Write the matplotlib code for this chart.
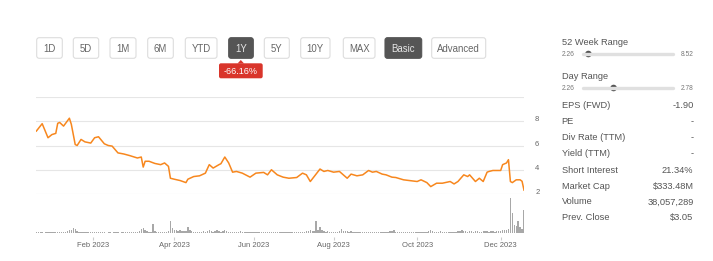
import pandas as pd
import matplotlib.pyplot as plt
from matplotlib.patches import FancyBboxPatch, Polygon, Circle

plt.rcParams['font.family'] = ['Liberation Sans', 'DejaVu Sans']

# trading calendar for the 1Y window
holidays = ['2022-12-26', '2023-01-02', '2023-01-16', '2023-02-20', '2023-04-07',
            '2023-05-29', '2023-06-19', '2023-07-04', '2023-09-04', '2023-11-23']
tdays = pd.bdate_range('2022-12-19', '2023-12-19', freq='C', holidays=holidays)

# closing prices
price_dates = ['2022-12-19', '2022-12-22', '2022-12-28', '2022-12-30', '2023-01-04', '2023-01-05',
               '2023-01-06', '2023-01-10', '2023-01-13', '2023-01-17', '2023-01-19', '2023-01-20',
               '2023-01-24', '2023-01-26', '2023-01-31', '2023-02-02', '2023-02-06', '2023-02-09',
               '2023-02-13', '2023-02-15', '2023-02-21', '2023-02-24', '2023-03-01', '2023-03-07',
               '2023-03-09', '2023-03-10', '2023-03-13', '2023-03-15', '2023-03-20', '2023-03-23',
               '2023-03-27', '2023-03-29', '2023-03-30', '2023-04-03', '2023-04-06', '2023-04-12',
               '2023-04-13', '2023-04-18', '2023-04-21', '2023-04-26', '2023-04-28', '2023-05-02',
               '2023-05-05', '2023-05-08', '2023-05-10', '2023-05-12', '2023-05-16', '2023-05-18',
               '2023-05-23', '2023-05-30', '2023-06-02', '2023-06-08', '2023-06-12', '2023-06-14',
               '2023-06-20', '2023-06-23', '2023-06-28', '2023-07-05', '2023-07-10', '2023-07-12',
               '2023-07-14', '2023-07-18', '2023-07-21', '2023-07-25', '2023-07-27', '2023-08-01',
               '2023-08-04', '2023-08-08', '2023-08-10', '2023-08-14', '2023-08-17', '2023-08-22',
               '2023-08-25', '2023-08-29', '2023-08-31', '2023-09-06', '2023-09-08', '2023-09-13',
               '2023-09-15', '2023-09-21', '2023-09-26', '2023-10-02', '2023-10-04', '2023-10-09',
               '2023-10-11', '2023-10-16', '2023-10-19', '2023-10-25', '2023-10-27', '2023-10-31',
               '2023-11-03', '2023-11-07', '2023-11-08', '2023-11-13', '2023-11-15', '2023-11-17',
               '2023-11-21', '2023-11-22', '2023-11-27', '2023-12-01', '2023-12-04', '2023-12-06',
               '2023-12-07', '2023-12-08', '2023-12-11', '2023-12-13', '2023-12-15', '2023-12-18',
               '2023-12-19']
prices = [7.19, 7.80, 6.64, 6.90, 7.00, 7.83,
          7.90, 7.60, 8.25, 7.75, 6.08, 6.00,
          6.50, 6.30, 6.20, 6.64, 6.72, 6.14,
          6.00, 5.95, 5.39, 5.30, 5.17, 4.97,
          5.05, 4.22, 4.70, 4.70, 4.52, 4.42,
          4.56, 4.28, 3.30, 3.22, 3.11, 2.94,
          3.22, 3.44, 3.50, 3.72, 4.42, 4.14,
          4.42, 4.50, 5.05, 4.56, 3.80, 3.86,
          3.72, 3.39, 3.72, 3.78, 3.58, 4.00,
          3.58, 3.39, 3.30, 3.36, 3.72, 3.58,
          3.03, 3.44, 4.06, 3.86, 3.94, 3.80,
          3.86, 3.58, 3.30, 3.64, 3.50, 3.58,
          3.94, 3.80, 3.86, 3.64, 3.58, 3.39,
          3.36, 3.17, 3.11, 3.03, 3.17, 2.94,
          2.61, 2.89, 2.89, 3.03, 2.83, 3.03,
          3.58, 3.44, 3.58, 3.03, 3.30, 3.03,
          3.80, 3.86, 3.94, 3.94, 4.42, 4.56,
          4.83, 3.03, 2.94, 3.17, 3.17, 3.05,
          2.32]

# daily volume, millions, one value per trading day, month by month
vol_dec22 = [2.0, 1.8, 2.2, 1.9, 1.6, 2.0, 2.3, 1.8, 2.1]
vol_jan = [2.1, 2.4, 3.0, 2.6, 2.2, 2.8, 3.2, 4.0, 5.5, 6.5, 8.5, 7.0, 4.5, 3.2, 2.8, 2.5, 2.2, 3.0, 2.4, 2.0]
vol_feb = [2.0, 2.6, 1.8, 2.2, 1.7, 2.4, 2.0, 1.6, 1.8, 2.2, 1.5, 1.9, 2.1, 1.7, 1.6, 2.0, 1.8, 2.2, 1.9]
vol_mar = [1.8, 2.0, 2.5, 2.2, 3.0, 4.5, 7.5, 8.5, 6.0, 3.5, 2.8, 2.5, 15.0, 4.0, 2.6, 2.2, 2.5, 2.4, 2.2, 2.8,
           3.5, 20.0, 9.0]
vol_apr = [6.0, 5.0, 4.5, 5.5, 4.0, 3.5, 4.0, 11.0, 5.0, 3.5, 3.0, 2.5, 2.8, 3.0, 2.4, 3.5, 2.8, 4.5, 5.0]
vol_may = [3.5, 3.0, 4.0, 5.5, 3.5, 3.0, 4.5, 5.0, 3.5, 2.8, 3.0, 2.5, 3.2, 2.8, 2.5, 3.5, 2.6, 2.2, 2.4, 2.8,
           2.5, 2.2]
vol_jun = [2.5, 3.0, 2.2, 2.0, 2.4, 2.6, 2.2, 2.0, 2.8, 3.0, 2.4, 2.2, 2.6, 3.0, 2.4, 2.0, 2.2, 2.6, 3.0, 2.8, 2.4]
vol_jul = [2.0, 2.2, 2.5, 2.8, 3.0, 2.6, 3.5, 4.0, 5.0, 3.5, 4.5, 20.0, 6.0, 10.0, 5.0, 4.0, 3.0, 3.5, 2.6, 2.8]
vol_aug = [2.5, 2.8, 3.0, 4.0, 8.0, 4.5, 3.5, 4.0, 3.0, 3.5, 2.8, 2.5, 2.2, 2.6, 2.4, 2.0, 2.2, 2.5, 2.0, 1.8,
           2.2, 2.4, 2.0]
vol_sep = [2.0, 2.2, 2.5, 1.8, 2.4, 3.0, 3.5, 4.0, 6.5, 3.0, 2.5, 2.2, 2.0, 1.8, 2.2, 2.0, 1.8, 2.4, 2.0, 1.9]
vol_oct = [2.0, 1.8, 2.2, 1.9, 2.5, 3.0, 3.5, 5.0, 4.0, 3.0, 2.6, 2.5, 3.5, 3.0, 2.4, 2.2, 2.6, 2.8, 3.0, 2.5,
           3.2, 4.0]
vol_nov = [4.5, 5.0, 4.0, 3.5, 3.0, 3.5, 4.0, 3.0, 3.5, 4.5, 3.0, 2.8, 3.5, 4.5, 3.5, 3.0, 4.0, 3.5, 3.0, 4.0, 4.5]
vol_dec = [4.0, 5.5, 5.0, 6.0, 7.0, 58.0, 33.0, 14.0, 12.0, 20.0, 10.0, 8.0, 38.1]
volumes = (vol_dec22 + vol_jan + vol_feb + vol_mar + vol_apr + vol_may + vol_jun + vol_jul
           + vol_aug + vol_sep + vol_oct + vol_nov + vol_dec)

tick_months = ['2023-02', '2023-04', '2023-06', '2023-08', '2023-10', '2023-12']
tick_labels = ['Feb 2023', 'Apr 2023', 'Jun 2023', 'Aug 2023', 'Oct 2023', 'Dec 2023']

buttons = ['1D', '5D', '1M', '6M', 'YTD', '1Y', '5Y', '10Y', 'MAX', 'Basic', 'Advanced']
button_x = [(36.7, 62.3), (73.3, 98.7), (110, 136), (147.7, 173.3), (185.3, 217), (228.7, 253.3),
            (264.3, 289.3), (300.7, 330), (343.3, 375), (385, 421.7), (431.7, 485.7)]
active = ['1Y', 'Basic']
change_text = '-66.16%'

range_rows = [('52 Week Range', '2.26', '8.52', 0.06), ('Day Range', '2.26', '2.78', 0.34)]
stat_labels = ['EPS (FWD)', 'PE', 'Div Rate (TTM)', 'Yield (TTM)', 'Short Interest', 'Market Cap',
               'Volume', 'Prev. Close']
stat_values = ['-1.90', '-', '-', '-', '21.34%', '$333.48M', '38,057,289', '$3.05']

W, H = 713, 261
fig = plt.figure(figsize=(W / 100, H / 100), dpi=100)

def rect(x0, y0, x1, y1):
    return [x0 / W, 1 - y1 / H, (x1 - x0) / W, (y1 - y0) / H]

# background layer in pixel coordinates
bg = fig.add_axes([0, 0, 1, 1])
bg.set_xlim(0, W)
bg.set_ylim(H, 0)
bg.axis('off')

for name, (x0, x1) in zip(buttons, button_x):
    on = name in active
    box = FancyBboxPatch((x0, 37.7), x1 - x0, 20.6, boxstyle='round,pad=0,rounding_size=2.5',
                         fc='#555555' if on else 'white', ec='#555555' if on else '#dddddd', lw=0.8)
    bg.add_patch(box)
    bg.text((x0 + x1) / 2, 51.7, name, ha='center', va='baseline', fontsize=6.9,
            color='#e6e6e6' if on else '#666666')

# red change badge under 1Y
bg.add_patch(FancyBboxPatch((219, 63.3), 43.7, 15, boxstyle='round,pad=0,rounding_size=2',
                            fc='#d9352b', ec='none'))
bg.add_patch(Polygon([(237.5, 63.5), (240.8, 60), (244.1, 63.5)], closed=True, fc='#d9352b', ec='none'))
bg.text(240.8, 74.2, change_text, ha='center', va='baseline', fontsize=6.5, color='white')

# right-hand quote panel
lx, rx = 561.5, 693.5
for i, (lab, lo, hi, pos) in enumerate(range_rows):
    y = 41.7 + i * 34
    bg.text(lx, y + 3.3, lab, ha='left', va='baseline', fontsize=6.7, color='#555555')
    bg.text(lx, y + 14.7, lo, ha='left', va='baseline', fontsize=4.8, color='#777777')
    bg.text(rx, y + 14.7, hi, ha='right', va='baseline', fontsize=4.8, color='#777777')
    bg.plot([583, 673], [y + 12.3, y + 12.3], color='#e0e0e0', lw=2.4, solid_capstyle='round')
    bg.add_patch(Circle((583 + pos * 90, y + 12.3), 3.3, fc='#555555', ec='none'))

stat_y = [105, 121, 137, 153, 169.5, 185.3, 201.2, 216.7]
for lab, val, y in zip(stat_labels, stat_values, stat_y):
    bg.text(lx, y + 3.3, lab, ha='left', va='baseline', fontsize=6.7, color='#555555')
    bg.text(rx, y + 3.3, val, ha='right', va='baseline', fontsize=6.7, color='#555555')

# price panel
x_left, x_right = 36.35, 524
ax = fig.add_axes(rect(x_left, 97, x_right, 194))
ax.patch.set_alpha(0)
px = tdays.get_indexer(pd.to_datetime(price_dates))
ax.plot(px, prices, color='#f7871e', lw=1.1, solid_joinstyle='round', zorder=3)
ax.set_xlim(0, len(tdays) - 1)
ax.set_ylim(2, 10)
ax.set_yticks([2, 4, 6, 8, 10])
ax.set_yticklabels(['2', '4', '6', '8', ''])
ax.yaxis.tick_right()
ax.tick_params(axis='y', length=0, pad=8, labelsize=5.5, labelcolor='#666666')
for t in ax.get_yticklabels():
    t.set_va('baseline')
ax.grid(axis='y', color='#e6e6e6', lw=0.8)
ax.set_xticks([])
for s in ax.spines.values():
    s.set_visible(False)

# volume panel
axv = fig.add_axes(rect(x_left, 194, x_right, 237))
axv.patch.set_alpha(0)
axv.bar(range(len(volumes)), volumes, width=0.7, color='#a8a8a8', lw=0)
axv.set_xlim(0, len(tdays) - 1)
axv.set_ylim(-5.8, 65.1)
axv.set_yticks([])
tick_pos = [tdays.get_indexer([tdays[tdays.strftime('%Y-%m') == m][0]])[0] for m in tick_months]
axv.set_xticks(tick_pos)
axv.set_xticklabels(tick_labels)
axv.tick_params(axis='x', length=2.3, width=0.8, color='#cccccc', pad=1.6, labelsize=5.5,
                labelcolor='#666666')
for s in axv.spines.values():
    s.set_visible(False)

fig.savefig('out.png', dpi=100)
